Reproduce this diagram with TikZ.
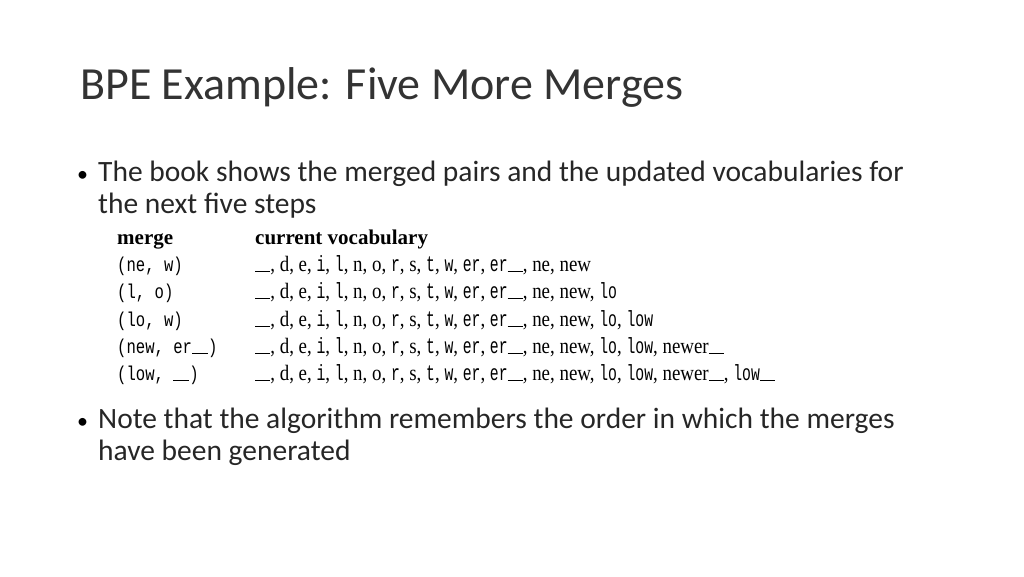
\documentclass[tikz,border=0pt]{standalone}
\usepackage{fontspec}
\usepackage{graphicx}
\setmainfont{Carlito}
\newfontfamily\bookfont{Liberation Serif}
\newfontfamily\codefont{Liberation Mono}
\newcommand{\us}{\rule[-1pt]{0.8em}{0.7pt}}
\newcommand{\cd}[1]{\scalebox{0.78}[1]{\codefont #1}}
\newcommand{\vrow}[1]{\scalebox{0.86}[1]{#1}}
\newcommand{\vocabbase}{\us, d, e, \cd{i}, \cd{l}, n, o, \cd{r}, s, \cd{t}, \cd{w}, \cd{er}, \cd{er}\us, ne, new}
\begin{document}
\begin{tikzpicture}[x=1pt,y=-1pt,
    title/.style={anchor=base west, inner sep=0, font=\fontsize{46}{50}\selectfont, text=black!80},
    body/.style={anchor=base west, font=\fontsize{29.5}{32}\selectfont, text=black!85, inner sep=0},
    bullet/.style={anchor=base west, font=\fontsize{22}{32}\selectfont, inner sep=0},
    mergecell/.style={anchor=base west, inner sep=0, font=\fontsize{20}{22}\codefont},
    vocabcell/.style={anchor=base west, inner sep=0, font=\fontsize{22}{24}\bookfont},
    headcell/.style={anchor=base west, inner sep=0, font=\fontsize{21}{24}\bookfont\bfseries},
  ]
  \useasboundingbox (0,0) rectangle (1024,576);
  \node[title] (ttl) at (80,99) {BPE Example: Five More Merges};
  % first bullet
  \node[bullet] (b1) at (77,181) {\textbullet};
  \node[body] (t1a) at (98,181) {The book shows the merged pairs and the updated vocabularies for};
  \node[body] (t1b) at (98,213) {the next five steps};
  % table
  \node[headcell] (hm) at (117,244) {merge};
  \node[headcell] (hv) at (255,244) {current vocabulary};
  \node[mergecell] (m1) at (117,271) {\cd{(ne, w)}};
  \node[vocabcell] (v1) at (255,271) {\vrow{\vocabbase}};
  \node[mergecell] (m2) at (117,298) {\cd{(l, o)}};
  \node[vocabcell] (v2) at (255,298) {\vrow{\vocabbase, \cd{lo}}};
  \node[mergecell] (m3) at (117,326) {\cd{(lo, w)}};
  \node[vocabcell] (v3) at (255,326) {\vrow{\vocabbase, \cd{lo}, \cd{low}}};
  \node[mergecell] (m4) at (117,353) {\cd{(new, er}\us\cd{)}};
  \node[vocabcell] (v4) at (255,353) {\vrow{\vocabbase, \cd{lo}, \cd{low}, newer\us}};
  \node[mergecell] (m5) at (117,380) {\cd{(low, }\us\cd{)}};
  \node[vocabcell] (v5) at (255,380) {\vrow{\vocabbase, \cd{lo}, \cd{low}, newer\us, \cd{low}\us}};
  % second bullet
  \node[bullet] (b2) at (77,428) {\textbullet};
  \node[body] (t2a) at (98,428) {Note that the algorithm remembers the order in which the merges};
  \node[body] (t2b) at (98,460) {have been generated};
\end{tikzpicture}
\end{document}
